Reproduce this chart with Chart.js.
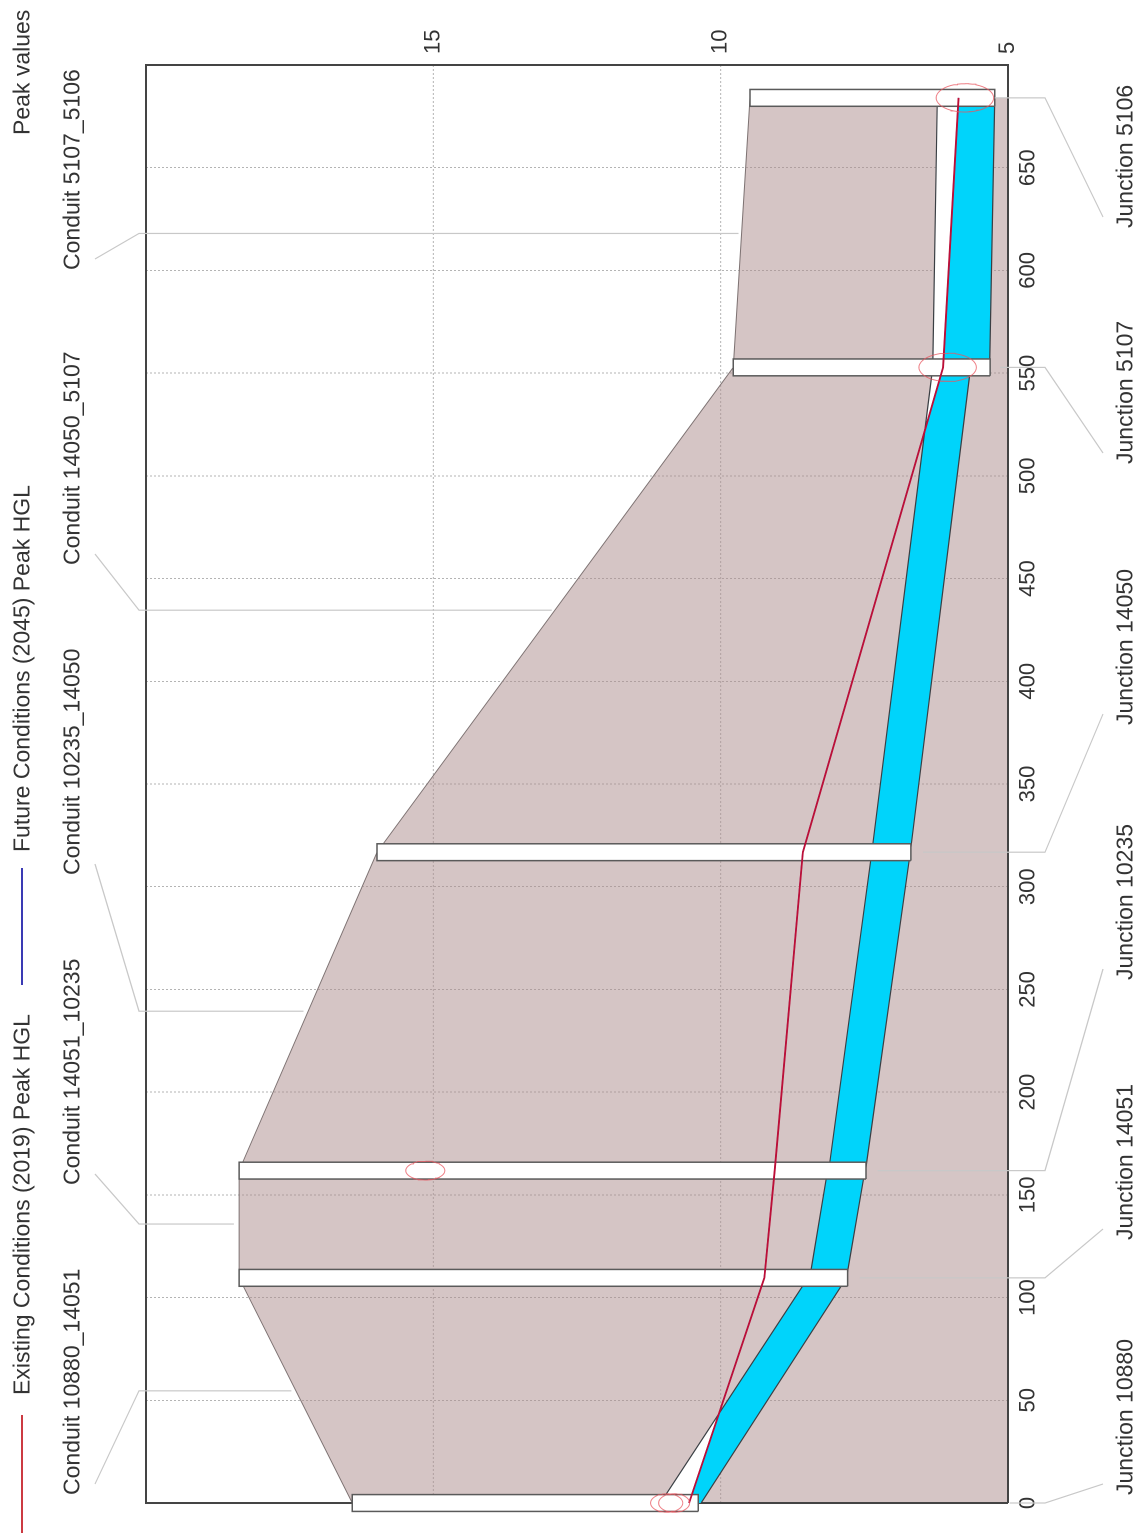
<!DOCTYPE html>
<html>
<head>
<meta charset="utf-8">
<title>Peak values</title>
<script src="https://cdn.jsdelivr.net/npm/chart.js@4"></script>
<style>
  html, body { margin: 0; padding: 0; background: #fff; overflow: hidden; }
  #wrap { position: relative; width: 1142px; height: 1535px; overflow: hidden; }
  /* the profile is a landscape plot turned a quarter turn to the left */
  #chart { position: absolute; left: 0; top: 0; transform-origin: 0 0; transform: translate(0, 1535px) rotate(-90deg); }
</style>
</head>
<body>
<div id="wrap"><canvas id="chart" width="1535" height="1142"></canvas></div>
<script>
const xTicks = [0, 50, 100, 150, 200, 250, 300, 350, 400, 450, 500, 550, 600, 650];
const yTicks = [5, 10, 15];

// nodes
const junctionLabels = ["Junction 10880", "Junction 14051", "Junction 10235", "Junction 14050", "Junction 5107", "Junction 5106"];
const nodeStations = [0, 109.6, 161.8, 316.8, 552.8, 684];
const groundElev = [16.41, 18.38, 18.38, 15.98, 9.78, 9.49];
const nodeInvert = [10.39, 7.79, 7.47, 6.69, 5.31, 5.23];
const nodeHalfWidth = 4.1;

// conduits, upstream and downstream end
const conduitLabels = ["Conduit 10880_14051", "Conduit 14051_10235", "Conduit 10235_14050", "Conduit 14050_5107", "Conduit 5107_5106"];
const crownUp = [11.05, 8.45, 8.12, 7.37, 6.31];
const crownDown = [8.48, 8.14, 7.37, 6.31, 6.23];
const invertUp = [10.34, 7.81, 7.48, 6.70, 5.32];
const invertDown = [7.81, 7.49, 6.70, 5.65, 5.23];

// peak HGL
const legendLabels = ["Existing Conditions (2019) Peak HGL", "Future Conditions (2045) Peak HGL"];
const existingHgl = [10.55, 9.24, 9.06, 8.57, 6.13, 5.86];
const futureHgl = [10.55, 9.24, 9.06, 8.57, 6.13, 5.86];

// ellipses around the peak markers
const markerX = [684, 552.8, 161.8, 0, 0];
const markerY = [5.75, 6.05, 15.14, 10.94, 10.81];
const markerRx = [6.9, 6.9, 4.6, 4.5, 4.5];
const markerRy = [0.5, 0.5, 0.34, 0.28, 0.27];

// leader lines
const junctionLeaderElev = [4.97, 7.58, 7.27, 6.48, 5.14, 5.23];
const junctionLabelStart = [40, 295, 555, 810, 1071, 1307];
const conduitLeaderStation = [54.6, 135.8, 239.4, 434.6, 618];
const conduitLeaderElev = [17.47, 18.47, 17.26, 12.94, 9.69];
const conduitLabelStart = [40, 350, 660, 970, 1265];

const FONT = '"Liberation Sans", Arial, sans-serif';
const TEXT = "#333333";

function shape(label, data, style) {
    return Object.assign({
        label: label,
        data: data,
        showLine: true,
        pointRadius: 0,
        borderWidth: 0,
        fill: false,
        clip: false
    }, style);
}

function pipeTop(i) {
    const x0 = nodeStations[i], x1 = nodeStations[i + 1];
    const d0 = existingHgl[i] - crownUp[i], d1 = existingHgl[i + 1] - crownDown[i];
    const pts = [{ x: x0, y: Math.min(existingHgl[i], crownUp[i]) }];
    if (d0 * d1 < 0) {
        const t = d0 / (d0 - d1);
        pts.push({ x: x0 + t * (x1 - x0), y: existingHgl[i] + t * (existingHgl[i + 1] - existingHgl[i]) });
    }
    pts.push({ x: x1, y: Math.min(existingHgl[i + 1], crownDown[i]) });
    return pts;
}

function buildDatasets() {
    const layers = [];

    // vertical grid lines of the elevation axis stop at station 0
    yTicks.filter(v => v > 5).forEach(v => {
        layers.push(shape("grid " + v, [{ x: 0, y: v }, { x: 700, y: v }], { borderColor: "#b4b4b4", borderWidth: 1, borderDash: [2, 2] }));
    });

    // ground
    layers.push(shape("Ground", nodeStations.map((x, i) => ({ x: x, y: groundElev[i] })), {
        backgroundColor: "rgba(171,139,139,0.5)", borderColor: "#7d7272", borderWidth: 1, fill: "start"
    }));

    // frame
    layers.push(shape("frame", [{ x: 0, y: 5 }, { x: 0, y: 20 }, { x: 700, y: 20 }, { x: 700, y: 5 }, { x: 0, y: 5 }], {
        borderColor: "#444", borderWidth: 2
    }));

    conduitLabels.forEach((name, i) => {
        const x0 = nodeStations[i], x1 = nodeStations[i + 1];
        layers.push(shape(name, [{ x: x0, y: crownUp[i] }, { x: x1, y: crownDown[i] }, { x: x1, y: invertDown[i] }, { x: x0, y: invertUp[i] }, { x: x0, y: crownUp[i] }], {
            backgroundColor: "#fff", fill: "shape"
        }));
        layers.push(shape(name + " water", pipeTop(i).concat([{ x: x1, y: invertDown[i] }, { x: x0, y: invertUp[i] }]), {
            backgroundColor: "#00d4fb", fill: "shape"
        }));
        layers.push(shape(name + " edges", [{ x: x0, y: crownUp[i] }, { x: x1, y: crownDown[i] }, { x: x1, y: null }, { x: x1, y: invertDown[i] }, { x: x0, y: invertUp[i] }], {
            borderColor: "#3a3f44", borderWidth: 1.2, spanGaps: false
        }));
    });

    junctionLabels.forEach((name, i) => {
        const a = nodeStations[i] - nodeHalfWidth, b = nodeStations[i] + nodeHalfWidth;
        layers.push(shape(name, [{ x: a, y: nodeInvert[i] }, { x: a, y: groundElev[i] }, { x: b, y: groundElev[i] }, { x: b, y: nodeInvert[i] }, { x: a, y: nodeInvert[i] }], {
            backgroundColor: "#fff", borderColor: "#5a5a5a", borderWidth: 1.5, fill: "shape"
        }));
    });

    layers.push(shape(legendLabels[1], nodeStations.map((x, i) => ({ x: x, y: futureHgl[i] })), { borderColor: "#2222bb", borderWidth: 1.4 }));
    layers.push(shape(legendLabels[0], nodeStations.map((x, i) => ({ x: x, y: existingHgl[i] })), { borderColor: "rgb(188,15,55)", borderWidth: 1.8 }));

    markerX.forEach((cx, m) => {
        const ring = [];
        for (let k = 0; k <= 48; k++) {
            const a = k / 48 * Math.PI * 2;
            ring.push({ x: cx + markerRx[m] * Math.cos(a), y: markerY[m] + markerRy[m] * Math.sin(a) });
        }
        layers.push(shape("peak " + m, ring, { borderColor: "rgba(232,85,95,0.75)", borderWidth: 1 }));
    });

    // later entries are painted on top
    layers.forEach((d, i) => { d.order = -i; });
    return layers;
}

// legend row, callout labels and leaders
const annotations = {
    id: "annotations",
    afterDraw(chart) {
        const ctx = chart.ctx;
        const sx = chart.scales.x, sy = chart.scales.y;
        ctx.save();
        ctx.textBaseline = "middle";
        ctx.textAlign = "left";
        ctx.font = "23px " + FONT;

        // legend
        ctx.lineWidth = 2;
        ctx.strokeStyle = "#cc3a42";
        ctx.beginPath(); ctx.moveTo(2, 22); ctx.lineTo(120, 22); ctx.stroke();
        ctx.strokeStyle = "#3a3ab4";
        ctx.beginPath(); ctx.moveTo(550, 22); ctx.lineTo(667, 22); ctx.stroke();
        ctx.fillStyle = TEXT;
        ctx.fillText(legendLabels[0], 140, 23);
        ctx.fillText(legendLabels[1], 683, 23);
        ctx.fillText("Peak values", 1400, 23);

        ctx.strokeStyle = "#c8c8c8";
        ctx.lineWidth = 1.2;
        junctionLabels.forEach((name, i) => {
            const lx = sx.getPixelForValue(nodeStations[i]);
            ctx.beginPath();
            ctx.moveTo(lx, sy.getPixelForValue(junctionLeaderElev[i]));
            ctx.lineTo(lx, 1045);
            ctx.lineTo(junctionLabelStart[i] + 11, 1103);
            ctx.stroke();
            ctx.fillText(name, junctionLabelStart[i], 1126);
        });
        conduitLabels.forEach((name, i) => {
            const lx = sx.getPixelForValue(conduitLeaderStation[i]);
            ctx.beginPath();
            ctx.moveTo(lx, sy.getPixelForValue(conduitLeaderElev[i]));
            ctx.lineTo(lx, 139);
            ctx.lineTo(conduitLabelStart[i] + 11, 95);
            ctx.stroke();
            ctx.fillText(name, conduitLabelStart[i], 73);
        });
        ctx.restore();
    }
};

new Chart(document.getElementById("chart").getContext("2d"), {
    type: "scatter",
    data: { datasets: buildDatasets() },
    plugins: [annotations],
    options: {
        responsive: false,
        animation: false,
        devicePixelRatio: 2,
        events: [],
        layout: { padding: { left: 15.56, top: 146, right: 0, bottom: 0 } },
        plugins: { legend: { display: false }, title: { display: false }, tooltip: { enabled: false } },
        scales: {
            x: {
                type: "linear",
                min: -8,
                max: 700,
                afterBuildTicks(s) { s.ticks = xTicks.map(v => ({ value: v })); },
                afterFit(s) { s.height = 134; },
                border: { display: false, dash: [2, 2] },
                grid: { color: "#b4b4b4", lineWidth: 1, drawTicks: false },
                ticks: { color: TEXT, padding: 7, autoSkip: false, maxRotation: 0, font: { family: FONT, size: 22 } }
            },
            y: {
                type: "linear",
                position: "right",
                min: 5,
                max: 20,
                afterBuildTicks(s) { s.ticks = yTicks.map(v => ({ value: v })); },
                afterFit(s) { s.width = 65; },
                border: { display: false },
                grid: { display: false },
                ticks: { color: TEXT, padding: 3, font: { family: FONT, size: 22 } }
            }
        }
    }
});
</script>
</body>
</html>
